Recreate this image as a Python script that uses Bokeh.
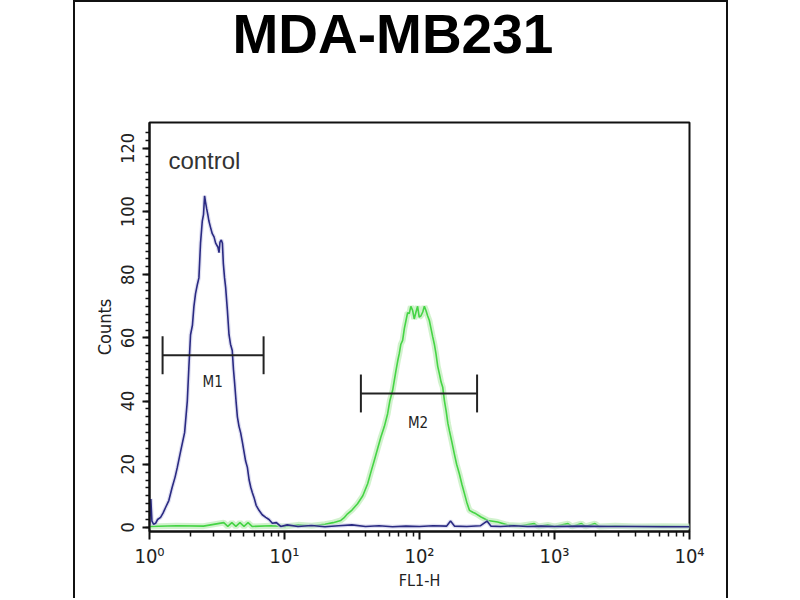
import numpy as np
from bokeh.plotting import figure
from bokeh.models import Label, FixedTicker, Range1d
from bokeh.embed import file_html
from bokeh.resources import INLINE

# ---------------- data ----------------
title_text = "MDA-MB231"
x_label = "FL1-H"
y_label = "Counts"
x_ticks = [1, 10, 100, 1000, 10000]
x_tick_labels = ["10\u2070", "10\u00b9", "10\u00b2", "10\u00b3", "10\u2074"]
y_ticks = [0, 20, 40, 60, 80, 100, 120]

# control histogram (blue): log10(FL1-H) positions and counts
control_log10 = [0.000, 0.010, 0.018, 0.030, 0.045, 0.060, 0.082, 0.100, 0.119, 0.143,
                 0.168, 0.190, 0.206, 0.230, 0.260, 0.280, 0.292, 0.304, 0.318, 0.329,
                 0.341, 0.355, 0.366, 0.378, 0.391, 0.400, 0.408, 0.415, 0.423, 0.432,
                 0.440, 0.452, 0.465, 0.478, 0.490, 0.507, 0.515, 0.522, 0.532, 0.540,
                 0.547, 0.556, 0.564, 0.577, 0.589, 0.600, 0.613, 0.622, 0.631, 0.641,
                 0.651, 0.663, 0.675, 0.688, 0.700, 0.712, 0.725, 0.738, 0.750, 0.762,
                 0.774, 0.790, 0.811, 0.835, 0.861, 0.885, 0.910, 0.940, 0.972, 1.02,
                 1.10, 1.20, 1.30, 1.40, 1.50, 1.60, 1.70, 1.80, 1.90, 2.00,
                 2.10, 2.20, 2.23, 2.26, 2.35, 2.45, 2.50, 2.53, 2.60, 2.70,
                 2.80, 2.90, 3.00, 3.20, 3.40, 3.60, 3.80, 4.00]
control_counts = [0.5, 9.0, 2.0, 1.0, 1.3, 2.5, 3.2, 4.5, 6.3, 8.5,
                  12.7, 16.0, 19.0, 24.0, 30.0, 40.0, 51.0, 61.0, 64.0, 70.0,
                  74.0, 77.0, 79.0, 90.0, 97.0, 99.0, 105.0, 103.0, 101.0, 99.0,
                  97.0, 95.0, 93.0, 92.0, 90.0, 88.7, 87.0, 90.3, 91.0, 90.0,
                  83.5, 79.0, 76.0, 68.7, 61.0, 58.0, 56.0, 50.0, 45.5, 40.0,
                  35.0, 32.0, 30.0, 27.0, 24.0, 21.0, 19.0, 15.0, 12.7, 11.0,
                  9.5, 7.0, 5.4, 4.0, 3.2, 2.5, 1.3, 1.5, 0.3, 0.8,
                  0.3, 0.6, 0.2, 0.5, 0.8, 0.3, 0.5, 0.2, 0.4, 0.3,
                  0.5, 0.4, 2.0, 0.4, 0.3, 0.5, 2.0, 0.4, 0.3, 0.5,
                  0.3, 0.4, 0.3, 0.4, 0.3, 0.3, 0.2, 0.2]

# stained sample histogram (green)
sample_log10 = [0.00, 0.20, 0.40, 0.55, 0.58, 0.61, 0.64, 0.67, 0.70, 0.73,
                0.76, 0.90, 1.00, 1.10, 1.20, 1.30, 1.36, 1.417, 1.44, 1.467,
                1.50, 1.541, 1.58, 1.616, 1.64, 1.665, 1.69, 1.714, 1.74, 1.764,
                1.78, 1.801, 1.826, 1.84, 1.850, 1.862, 1.875, 1.888, 1.900, 1.912,
                1.924, 1.936, 1.949, 1.961, 1.974, 1.986, 1.998, 2.011, 2.024, 2.036,
                2.048, 2.060, 2.073, 2.085, 2.098, 2.110, 2.122, 2.135, 2.147, 2.160,
                2.172, 2.185, 2.197, 2.210, 2.221, 2.240, 2.258, 2.275, 2.295, 2.315,
                2.333, 2.350, 2.370, 2.395, 2.419, 2.456, 2.506, 2.579, 2.65, 2.75,
                2.85, 2.88, 2.95, 3.00, 3.10, 3.13, 3.20, 3.23, 3.30, 3.33,
                3.45, 3.60, 3.80, 4.00]
sample_counts = [0.3, 0.5, 0.4, 1.5, 0.3, 1.5, 0.3, 1.5, 0.3, 1.5,
                 0.3, 0.5, 0.3, 0.8, 0.5, 1.0, 1.5, 2.2, 3.0, 4.3,
                 5.5, 7.5, 10.0, 13.8, 17.5, 21.2, 25.0, 28.6, 32.0, 36.0,
                 40.0, 43.4, 49.7, 53.0, 55.0, 58.0, 59.2, 63.0, 65.5, 68.0,
                 67.7, 70.0, 68.7, 66.0, 68.2, 70.0, 66.6, 67.0, 68.2, 70.0,
                 68.7, 67.0, 65.5, 63.0, 60.3, 58.0, 55.0, 51.0, 48.7, 46.0,
                 44.4, 40.0, 37.0, 33.0, 30.7, 27.0, 23.3, 20.0, 17.0, 13.5,
                 10.7, 8.0, 5.4, 4.8, 4.3, 3.3, 2.2, 1.7, 0.8, 0.5,
                 1.2, 0.3, 0.8, 0.3, 1.2, 0.3, 1.2, 0.3, 1.2, 0.3,
                 0.5, 0.3, 0.4, 0.3]

# marker gates
marker_names = ["M1", "M2"]
marker_lo = [1.25, 36.8]
marker_hi = [7.0, 267.0]
marker_level = [54.5, 42.4]
marker_label_x = [2.94, 97.6]
marker_label_y = [46.0, 33.0]

# ---------------- figure ----------------
NARROW = "DejaVu Sans Condensed"
p = figure(width=655, height=598, x_axis_type="log",
           x_range=Range1d(1, 10000), y_range=Range1d(-1.3, 128.2),
           output_backend="svg", toolbar_location=None,
           min_border_left=74, min_border_right=41,
           min_border_top=120, min_border_bottom=69)
p.styles = {"margin-left": "73px",
            "border-left": "2px solid #111111",
            "border-right": "2px solid #111111",
            "border-top": "2px solid #111111"}
p.background_fill_color = "white"
p.border_fill_color = "white"
p.grid.visible = False
p.outline_line_color = "#111111"
p.outline_line_width = 2

# title
p.title.text = title_text
p.title.text_font = "Liberation Sans"
p.title.text_font_style = "bold"
p.title.text_font_size = "55px"
p.title.text_color = "#000000"
p.title.align = "left"
p.title.vertical_align = "top"
p.title.offset = 83
p.title.standoff = 0
p.title.padding = dict(left=0, right=0, top=0, bottom=56)

# axes
p.xaxis.ticker = FixedTicker(ticks=x_ticks,
                             minor_ticks=[m * 10 ** e for e in range(4) for m in range(2, 10)])
p.xaxis.major_label_overrides = {t: l for t, l in zip(x_ticks, x_tick_labels)}
p.yaxis.ticker = FixedTicker(ticks=y_ticks,
                             minor_ticks=[v * 2.5 for v in range(0, 51)])
for ax in (p.xaxis[0], p.yaxis[0]):
    ax.axis_line_color = "#111111"
    ax.axis_line_width = 2
    ax.major_tick_line_color = "#111111"
    ax.major_tick_line_width = 2
    ax.minor_tick_line_color = "#111111"
    ax.minor_tick_line_width = 1.5
    ax.major_tick_in = 0
    ax.minor_tick_in = 0
    ax.major_label_text_font = NARROW
    ax.major_label_text_color = "#222222"
    ax.axis_label_text_font = NARROW
    ax.axis_label_text_font_style = "normal"
    ax.axis_label_text_color = "#222222"

p.xaxis.major_tick_out = 8
p.xaxis.minor_tick_out = 5
p.xaxis.major_label_text_font_size = "20px"
p.xaxis.major_label_standoff = 4
p.xaxis.axis_label = x_label
p.xaxis.axis_label_text_font_size = "16px"
p.xaxis.axis_label_standoff = 0

p.yaxis.major_tick_out = 7
p.yaxis.minor_tick_out = 4
p.yaxis.major_label_text_font_size = "18px"
p.yaxis.major_label_orientation = "vertical"
p.yaxis.major_label_standoff = 8
p.yaxis.axis_label = y_label
p.yaxis.axis_label_text_font_size = "18px"
p.yaxis.axis_label_standoff = 4

# curves
cx = [10 ** v for v in control_log10]
sx = [10 ** v for v in sample_log10]
p.line(sx, sample_counts, line_color="#c6efc0", line_width=6, line_alpha=0.8)
p.line(sx, sample_counts, line_color="#45d445", line_width=1.6)
p.line(cx, control_counts, line_color="#c9c9e8", line_width=4, line_alpha=0.6)
p.line(cx, control_counts, line_color="#2a2a82", line_width=1.6)

# marker brackets
p.segment(x0=marker_lo, y0=marker_level, x1=marker_hi, y1=marker_level,
          line_color="#222222", line_width=2)
cap = 6.0
p.segment(x0=marker_lo, y0=[v - cap for v in marker_level],
          x1=marker_lo, y1=[v + cap for v in marker_level],
          line_color="#222222", line_width=2)
p.segment(x0=marker_hi, y0=[v - cap for v in marker_level],
          x1=marker_hi, y1=[v + cap for v in marker_level],
          line_color="#222222", line_width=2)
for name, lx, ly in zip(marker_names, marker_label_x, marker_label_y):
    p.add_layout(Label(x=lx, y=ly, text=name, text_font=NARROW, text_font_size="15px",
                       text_color="#222222", text_align="center", text_baseline="middle"))

p.add_layout(Label(x=1.38, y=116.2, text="control", text_font="Liberation Sans",
                   text_font_size="24px", text_color="#333333",
                   text_align="left", text_baseline="middle"))

open("out.html", "w").write(file_html(p, INLINE))
